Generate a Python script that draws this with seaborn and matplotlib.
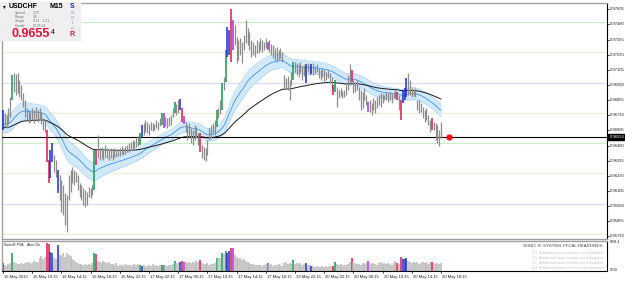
#!/usr/bin/env python3
"""USDCHF M15 Sonic R chart (MT4 style) with PVA volume panel."""

import matplotlib

matplotlib.use("Agg")
import matplotlib.pyplot as plt
import numpy as np
import pandas as pd
import seaborn as sns
from matplotlib.patches import Rectangle

# bar highs / lows in points (price * 1e5), one per M15 bar
HIGHS = [
    96773, 96749, 96732, 96790, 96881, 97062, 97079, 97071, 97079, 97021,
    96980, 96914, 96856, 96790, 96773, 96757, 96790, 96773, 96798, 96773,
    96790, 96757, 96707, 96691, 96608, 96360, 96443, 96501, 96402, 96360,
    96278, 96237, 96195, 96154, 96088, 96071, 96237, 96278, 96303, 96278,
    96261, 96237, 96170, 96154, 96129, 96113, 96096, 96137, 96129, 96154,
    96443, 96443, 96567, 96460, 96468, 96443, 96484, 96460, 96443, 96460,
    96443, 96460, 96443, 96451, 96460, 96476, 96460, 96476, 96484, 96501,
    96509, 96526, 96517, 96542, 96559, 96583, 96650, 96666, 96691, 96674,
    96658, 96674, 96666, 96658, 96691, 96674, 96707, 96749, 96749, 96716,
    96707, 96716, 96732, 96790, 96839, 96823, 96856, 96864, 96790, 96724,
    96674, 96650, 96666, 96625, 96608, 96650, 96633, 96583, 96583, 96484,
    96468, 96460, 96526, 96625, 96650, 96666, 96691, 96773, 96790, 96856,
    96996, 97046, 97269, 97459, 97434, 97608, 97517, 97476, 97376, 97352,
    97368, 97335, 97393, 97517, 97451, 97418, 97352, 97335, 97310, 97352,
    97335, 97368, 97352, 97335, 97368, 97335, 97352, 97319, 97310, 97285,
    97294, 97269, 97285, 97252, 97062, 97038, 97054, 97021, 97087, 97170,
    97170, 97162, 97153, 97170, 97137, 97145, 97153, 97162, 97145, 97153,
    97162, 97137, 97153, 97120, 97104, 97120, 97104, 97087, 97104, 97079,
    97046, 96980, 97021, 96963, 96939, 96955, 96930, 96939, 96980, 97062,
    97153, 97104, 97021, 97005, 97021, 96963, 96939, 96922, 96955, 96897,
    96839, 96856, 96831, 96872, 96856, 96881, 96897, 96914, 96906, 96897,
    96922, 96914, 96922, 96906, 96922, 96939, 96922, 96897, 96856, 96939,
    96955, 97038, 97079, 97021, 96955, 96939, 96955, 96856, 96856, 96831,
    96798, 96773, 96790, 96732, 96691, 96707, 96674, 96666, 96650, 96608,
    96674,
]
LOWS = [
    96608, 96633, 96625, 96658, 96716, 96856, 96922, 96897, 96914, 96881,
    96856, 96798, 96716, 96691, 96666, 96674, 96691, 96666, 96707, 96674,
    96691, 96658, 96608, 96592, 96344, 96170, 96212, 96344, 96261, 96220,
    96088, 96030, 95931, 95906, 95824, 95766, 96030, 96096, 96170, 96154,
    96179, 96113, 96055, 96030, 95989, 95972, 95989, 96055, 96047, 96071,
    96113, 96319, 96377, 96360, 96377, 96360, 96385, 96377, 96360, 96377,
    96360, 96385, 96385, 96393, 96393, 96410, 96402, 96410, 96427, 96427,
    96443, 96451, 96443, 96468, 96476, 96484, 96550, 96567, 96592, 96583,
    96567, 96608, 96600, 96608, 96625, 96608, 96641, 96650, 96625, 96641,
    96625, 96641, 96650, 96716, 96749, 96732, 96749, 96773, 96674, 96658,
    96592, 96526, 96550, 96501, 96484, 96526, 96542, 96484, 96427, 96377,
    96360, 96352, 96402, 96526, 96542, 96583, 96567, 96633, 96707, 96740,
    96773, 96939, 97005, 97211, 97228, 97170, 97269, 97310, 97162, 97186,
    97228, 97162, 97269, 97327, 97310, 97269, 97211, 97228, 97211, 97244,
    97244, 97269, 97252, 97269, 97285, 97269, 97252, 97228, 97203, 97186,
    97170, 97186, 97203, 97170, 96955, 96955, 96939, 96856, 96980, 97021,
    97087, 97062, 97046, 97087, 97021, 97054, 96996, 97087, 97062, 97071,
    97062, 97079, 97087, 97038, 97021, 97046, 96996, 97021, 97038, 96996,
    96939, 96897, 96922, 96798, 96872, 96889, 96872, 96881, 96897, 96939,
    96980, 97005, 96914, 96922, 96939, 96856, 96773, 96790, 96856, 96815,
    96757, 96757, 96732, 96773, 96749, 96790, 96815, 96798, 96831, 96856,
    96856, 96839, 96856, 96831, 96872, 96872, 96856, 96773, 96691, 96831,
    96856, 96881, 96897, 96897, 96881, 96889, 96881, 96773, 96749, 96757,
    96707, 96674, 96691, 96650, 96592, 96608, 96608, 96526, 96501, 96476,
    96542,
]
VOLUMES = [
    284, 200, 170, 230, 260, 625, 300, 280, 250, 230,
    260, 240, 280, 300, 320, 250, 280, 340, 300, 320,
    450, 500, 420, 480, 966, 910, 650, 620, 450, 400,
    885, 560, 520, 600, 480, 620, 560, 500, 420, 380,
    300, 260, 230, 250, 220, 240, 200, 230, 210, 260,
    625, 570, 340, 300, 280, 340, 320, 260, 300, 240,
    230, 200, 260, 180, 220, 200, 170, 230, 190, 210,
    200, 180, 230, 190, 227, 205, 170, 200, 150, 180,
    200, 160, 230, 180, 210, 170, 190, 193, 193, 210,
    180, 220, 200, 240, 341, 280, 260, 318, 341, 318,
    300, 280, 320, 260, 300, 280, 330, 290, 364, 280,
    250, 230, 270, 200, 240, 230, 280, 455, 420, 450,
    625, 570, 680, 625, 680, 773, 773, 560, 480, 420,
    450, 380, 400, 340, 300, 280, 230, 250, 200, 220,
    190, 220, 170, 200, 230, 284, 200, 230, 180, 210,
    190, 230, 200, 170, 260, 300, 250, 280, 230, 364,
    250, 280, 230, 260, 220, 240, 260, 200, 190, 170,
    160, 140, 170, 150, 130, 160, 140, 170, 150, 180,
    148, 180, 307, 230, 200, 250, 180, 220, 200, 240,
    300, 455, 260, 280, 230, 250, 220, 280, 240, 260,
    341, 260, 230, 280, 250, 220, 260, 300, 240, 280,
    230, 260, 250, 220, 280, 341, 260, 240, 478, 398,
    398, 455, 340, 300, 280, 310, 260, 300, 240, 280,
    300, 280, 320, 250, 300, 318, 260, 230, 280, 250,
    270,
]

# PVA coloured bars (bar indices)
GREEN_BARS = [5, 50, 75, 87, 94, 117, 120, 122, 159, 182]
RED_BARS = [24, 25, 51, 98, 108, 125, 181, 191, 216, 218, 235]
BLUE_BARS = [0, 26, 27, 30, 76, 97, 123, 124, 166, 169, 219, 220, 221]
VIOLET_BARS = [88, 99, 126, 145, 200]

TIME_LABELS = [
    "16 May 2013", "16 May 10:15", "16 May 14:15", "16 May 18:15",
    "16 May 22:15", "17 May 02:15", "17 May 06:15", "17 May 10:15",
    "17 May 14:15", "17 May 18:15", "19 May 22:15", "20 May 02:15",
    "20 May 06:15", "20 May 10:15", "20 May 14:15", "20 May 18:15",
]
PRICE_TICKS = [
    0.97605, 0.97480, 0.97355, 0.97230, 0.97105, 0.96980, 0.96855, 0.96730,
    0.96605, 0.96480, 0.96355, 0.96230, 0.96105, 0.95980, 0.95855, 0.95730,
]
LEVELS_GREEN = [0.9750, 0.9650]
LEVELS_YELLOW = [0.9725, 0.9675, 0.9625, 0.9575]
LEVELS_LAVENDER = [0.9700, 0.9600]
BID = 0.96554
# EMA values carried in from bars before the window
DRAGON_HIGH_START = 0.96724
DRAGON_LOW_START = 0.96583
EMA89_START = 0.96625

W, H = 625, 283
STEP = 29.2 / 16  # pixels per bar
FONT = ["Liberation Sans", "DejaVu Sans"]


def fx(px):
    return px / W


def fy(py):
    return 1 - py / H


def ema(values, span, seed):
    s = pd.Series([seed] + list(values))
    return s.ewm(span=span, adjust=False).mean().to_numpy()[1:]


sns.set_theme(style="white")
plt.rcParams["font.family"] = FONT

highs = np.array(HIGHS) / 1e5
lows = np.array(LOWS) / 1e5
idx = np.arange(len(highs))
colors = ["#8c8c8c"] * len(idx)
vcolors = ["#b8b8b8"] * len(idx)
for lst, c in [(GREEN_BARS, "#109a50"), (RED_BARS, "#e0184a"),
               (BLUE_BARS, "#1c2cc8"), (VIOLET_BARS, "#a030e8")]:
    for i in lst:
        colors[i] = c
        vcolors[i] = c

dr_hi = ema(highs, 34, DRAGON_HIGH_START)
dr_lo = ema(lows, 34, DRAGON_LOW_START)
dr_mid = (dr_hi + dr_lo) / 2
ema89 = ema((highs + lows) / 2, 89, EMA89_START)

fig = plt.figure(figsize=(W / 100, H / 100), dpi=100)
fig.patch.set_facecolor("white")

x0 = (2 - 3) / STEP
x1 = (607 - 3) / STEP
ax = fig.add_axes([fx(2), fy(239), fx(605), (239 - 3) / H])
ax.set_xlim(x0, x1)
ax.set_ylim(0.95708, 0.97657)
ax.set_facecolor("white")

for lv in LEVELS_GREEN:
    ax.axhline(lv, color="#c8f0c8", lw=0.8, zorder=1)
for lv in LEVELS_YELLOW:
    ax.axhline(lv, color="#ececd8", lw=0.8, zorder=1)
for lv in LEVELS_LAVENDER:
    ax.axhline(lv, color="#dcdcf6", lw=0.9, zorder=1)

ax.fill_between(idx, dr_lo, dr_hi, color="#d2e8fb", lw=0, zorder=2)
sns.lineplot(x=idx, y=dr_hi, ax=ax, color="#b0d6f6", lw=0.6, estimator=None, zorder=3)
sns.lineplot(x=idx, y=dr_lo, ax=ax, color="#b0d6f6", lw=0.6, estimator=None, zorder=3)
sns.lineplot(x=idx, y=dr_mid, ax=ax, color="#3d94ec", lw=0.6, estimator=None, zorder=3)
sns.lineplot(x=idx, y=ema89, ax=ax, color="#1a1a1a", lw=0.7, estimator=None, zorder=4)

ax.axhline(BID, color="#000000", lw=0.8, zorder=4)
gray = np.array([c == "#8c8c8c" for c in colors])
ax.vlines(idx[gray], lows[gray], highs[gray], colors="#8c8c8c", lw=0.9, zorder=5)
col = ~gray
ax.vlines(idx[col], lows[col], highs[col],
          colors=[c for c, k in zip(colors, col) if k], lw=1.1, zorder=6)
ax.plot([(449 - 3) / STEP], [BID], "o", color="#ff1010", ms=3.5, zorder=7)

ax.set_xticks([])
ax.set_yticks([])
for side in ["left", "top", "bottom"]:
    ax.spines[side].set_color("#a0a0a0")
    ax.spines[side].set_linewidth(1.0)
ax.spines["right"].set_color("#000000")
ax.spines["right"].set_linewidth(0.8)

# volume panel
ax2 = fig.add_axes([fx(2), fy(271), fx(605), 30 / H])
ax2.set_xlim(x0, x1)
ax2.set_ylim(0, 1020)
ax2.vlines(idx, 0, VOLUMES, colors=vcolors, lw=1.1)
ax2.set_xticks([])
ax2.set_yticks([])
for side in ["left", "top"]:
    ax2.spines[side].set_color("#a0a0a0")
    ax2.spines[side].set_linewidth(1.0)
ax2.spines["bottom"].set_color("#000000")
ax2.spines["bottom"].set_linewidth(0.8)
ax2.spines["right"].set_color("#000000")
ax2.spines["right"].set_linewidth(0.8)

fig.text(fx(4), fy(245), "SonicR PVA    Alert On", fontsize=2.6, color="#202020",
         va="center")
fig.text(fx(603), fy(246), "SONIC R. SYSTEM  FFCAL HEADLINES:", fontsize=3.1,
         color="#404040", ha="right", va="center")
for k, yy in enumerate([253, 258, 263, 268]):
    fig.text(fx(603), fy(yy), f"({k + 1})  Additional news events not scheduled",
             fontsize=2.8, color="#c4c4c4", ha="right", va="center")

# price axis
for p in PRICE_TICKS:
    py = 3 + (0.97657 - p) / (0.97657 - 0.95708) * 236
    fig.add_artist(plt.Line2D([fx(607), fx(609)], [fy(py), fy(py)],
                              color="#000000", lw=0.5))
    fig.text(fx(610), fy(py), f"{p:.5f}", fontsize=3, color="#202020", va="center")
by = 3 + (0.97657 - BID) / (0.97657 - 0.95708) * 236
fig.add_artist(Rectangle((fx(608), fy(by + 3)), fx(16), 6 / H,
                         transform=fig.transFigure, color="#000000"))
fig.text(fx(609.5), fy(by), f"{BID:.5f}", fontsize=3, color="white", va="center")
fig.text(fx(610), fy(242), "989.1", fontsize=3, color="#202020", va="center")
fig.text(fx(610), fy(270), "0.00", fontsize=3, color="#202020", va="center")

# time axis
for k, lab in enumerate(TIME_LABELS):
    px = 3 + STEP * 16 * k
    fig.add_artist(plt.Line2D([fx(px), fx(px)], [fy(271), fy(273)],
                              color="#000000", lw=0.5))
    fig.text(fx(px + 1), fy(277), lab, fontsize=3, color="#202020", va="center")

# info box
fig.add_artist(Rectangle((0, fy(40)), fx(80), 38 / H, transform=fig.transFigure,
                         color="#efefef", zorder=10))
fig.text(fx(3), fy(7), "▾", fontsize=4, color="#000000", va="center", zorder=11)
fig.text(fx(9), fy(7), "USDCHF", fontsize=5, weight="bold", color="#000000",
         va="center", zorder=11)
fig.text(fx(49), fy(7), "M15", fontsize=5, weight="bold", color="#000000",
         va="center", zorder=11)
for yy, k, v in [(13, "Spread", "1.70"), (17, "Range", "0.0"),
                 (21, "Swaps", "0.11  -1.21"), (26, "Candle", "00:05:04")]:
    fig.text(fx(15), fy(yy), k, fontsize=2.4, color="#707070", va="center", zorder=11)
    fig.text(fx(33), fy(yy), v, fontsize=2.4, color="#707070", va="center", zorder=11)
fig.text(fx(11), fy(34), "0.9655", fontsize=9, weight="bold", color="#e0103a",
         va="center", zorder=11)
fig.text(fx(51), fy(33), "4", fontsize=5, color="#000000", va="center", zorder=11)
for yy, ch, c, fs in [(6, "S", "#2020d0", 5), (12, "o", "#b0a8e0", 3.8),
                      (17.5, "n", "#c0a8d8", 3.8), (23, "i", "#d0a0c8", 3.8),
                      (28.5, "c", "#e090b0", 3.8), (35, "R", "#e0103a", 5)]:
    fig.text(fx(72), fy(yy), ch, fontsize=fs, weight="bold", color=c,
             ha="center", va="center", zorder=11)

fig.savefig("out.png", dpi=100)
